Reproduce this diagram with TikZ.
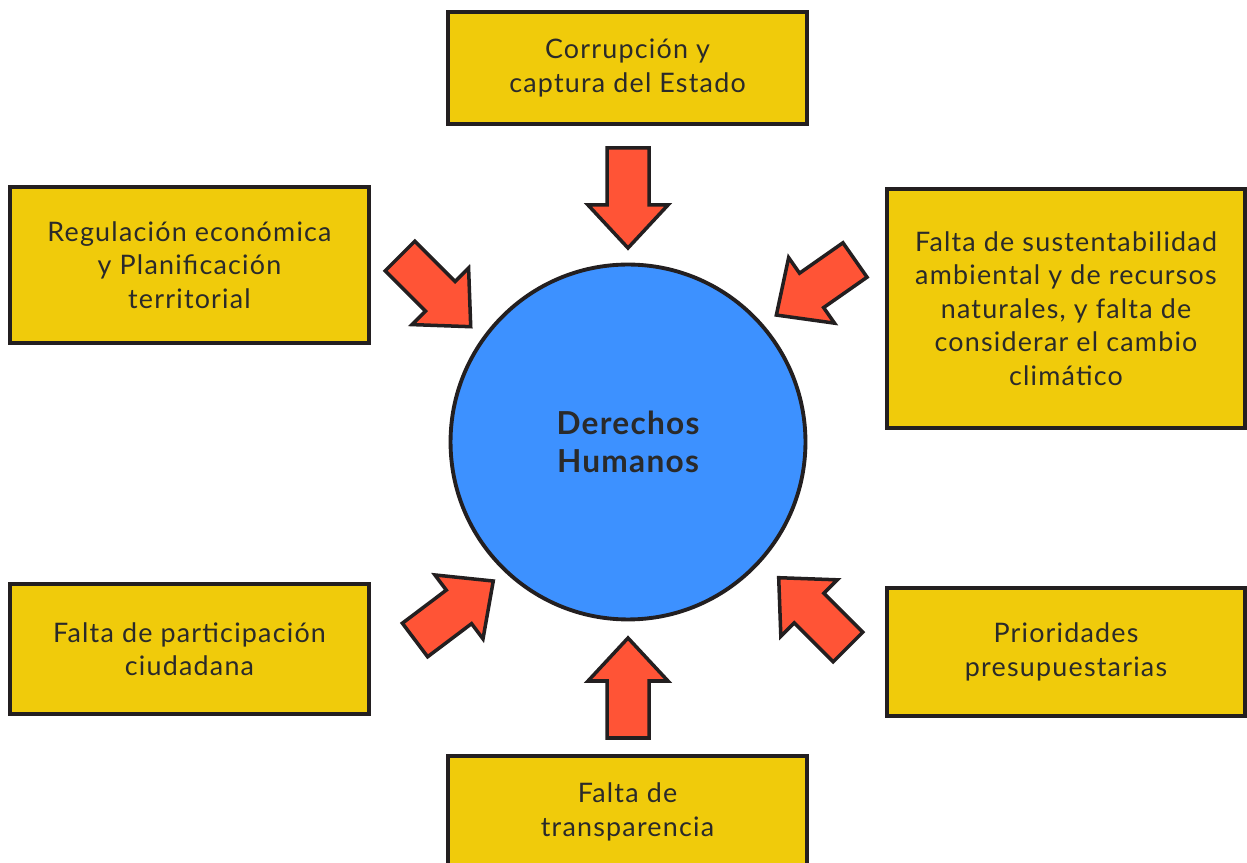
\documentclass[tikz,border=0pt]{standalone}
\usepackage{fontspec}
\setmainfont{Lato}
\definecolor{boxcol}{HTML}{F0CB0B}
\definecolor{arrcol}{HTML}{FF5436}
\definecolor{dhcol}{HTML}{3D91FF}
\definecolor{linecol}{HTML}{231F20}
\definecolor{txtcol}{HTML}{2A2A2A}
\tikzset{every picture/.style={x=0.02cm,y=0.02cm}}
\tikzset{factor/.style={rectangle,draw=linecol,fill=boxcol,line width=2.2pt,
  text=txtcol,align=center,inner sep=0pt,
  font=\fontsize{15.3}{19}\selectfont\addfontfeatures{LetterSpace=4.5}}}
\tikzset{core/.style={circle,draw=linecol,fill=dhcol,line width=2.2pt,
  minimum size=7.1cm,text=txtcol,align=center,
  font=\fontsize{18}{22}\selectfont\bfseries\addfontfeatures{LetterSpace=4}}}
\tikzset{pics/blockarrow/.style={code={
  \draw [arrcol,draw=linecol,line width=2pt,line join=miter,fill=arrcol]
    (0,-21) -- (#1-43,-21) -- (#1-43,-40) -- (#1,0) -- (#1-43,40)
    -- (#1-43,21) -- (0,21) -- cycle;}}}

\begin{document}
\begin{tikzpicture}
\useasboundingbox (0,0) rectangle (1247,862);

\node [core] (dh) at (628,420) {Derechos\\Humanos};

\node [factor,minimum width=7.18cm,minimum height=2.24cm] (corr) at (627.5,794)
  {Corrupción y\\captura del Estado};
\node [factor,minimum width=7.18cm,minimum height=3.12cm] (regul) at (189.5,597)
  {Regulación económica\\y Planificación\\territorial};
\node [factor,minimum width=7.16cm,minimum height=4.78cm] (sust) at (1066,553.5)
  {Falta de sustentabilidad\\ambiental y de recursos\\naturales, y falta de\\considerar el cambio\\climático};
\node [factor,minimum width=7.18cm,minimum height=2.6cm] (partic) at (189.5,213)
  {Falta de participación\\ciudadana};
\node [factor,minimum width=7.16cm,minimum height=2.56cm] (prior) at (1066,210)
  {Prioridades\\presupuestarias};
\node [factor,minimum width=7.18cm,minimum height=2.24cm] (transp) at (627.5,50)
  {Falta de\\transparencia};

\pic [rotate=-90] at (628,714) {blockarrow=100};
\pic [rotate=-45] at (400,606) {blockarrow=100};
\pic [rotate=215] at (855,602) {blockarrow=96};
\pic [rotate=37] at (415,222) {blockarrow=98};
\pic [rotate=135] at (848,215) {blockarrow=98};
\pic [rotate=90] at (628,124) {blockarrow=100};
\end{tikzpicture}
\end{document}
